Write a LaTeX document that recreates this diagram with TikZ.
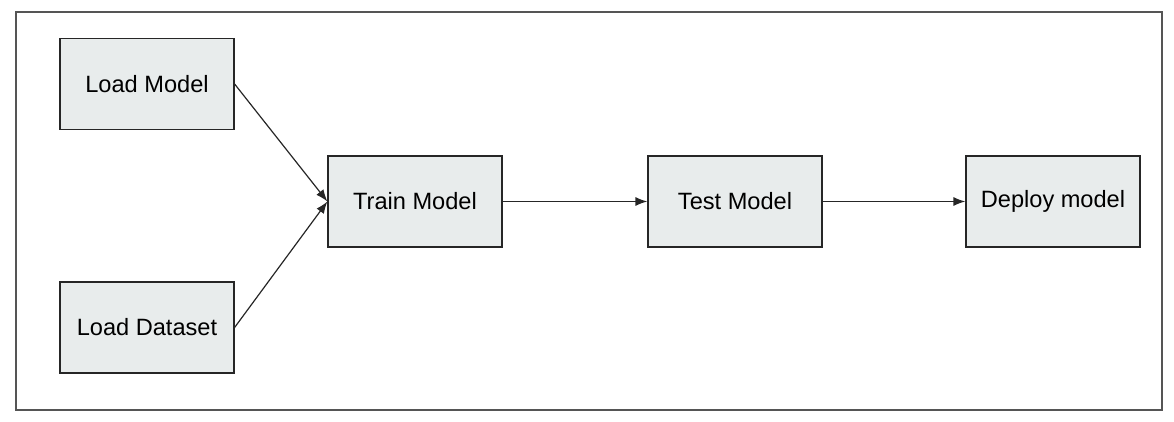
\documentclass[tikz,border=0pt]{standalone}
\usepackage{fontspec}
\setmainfont{Liberation Sans}
\usetikzlibrary{arrows.meta}
\definecolor{boxfill}{HTML}{E8ECEC}
\definecolor{framegray}{HTML}{555555}
\begin{document}
\begin{tikzpicture}[x=0.5pt,y=-0.5pt,
  stepbox/.style={draw=black!85, fill=boxfill, line width=0.6pt, minimum width=87pt, minimum height=45.5pt, inner sep=0pt, font=\fontsize{11.8pt}{14pt}\selectfont},
  conn/.style={-{Latex[length=6pt,width=4.5pt]}, line width=0.6pt, black!85}]
\useasboundingbox (0,0) rectangle (1174,422);
\draw[framegray, line width=0.8pt] (16,12) rectangle (1162,410);
\node[stepbox] (lm) at (147,84) {Load Model};
\node[stepbox] (ld) at (147,327.5) {Load Dataset};
\node[stepbox] (tr) at (415,201.5) {Train Model};
\node[stepbox] (te) at (735,201.5) {Test Model};
\node[stepbox] (de) at (1053,201.5) {Deploy model};
\draw[conn] (lm.east) -- (tr.west);
\draw[conn] (ld.east) -- (tr.west);
\draw[conn] (tr.east) -- (te.west);
\draw[conn] (te.east) -- (de.west);
\end{tikzpicture}
\end{document}
